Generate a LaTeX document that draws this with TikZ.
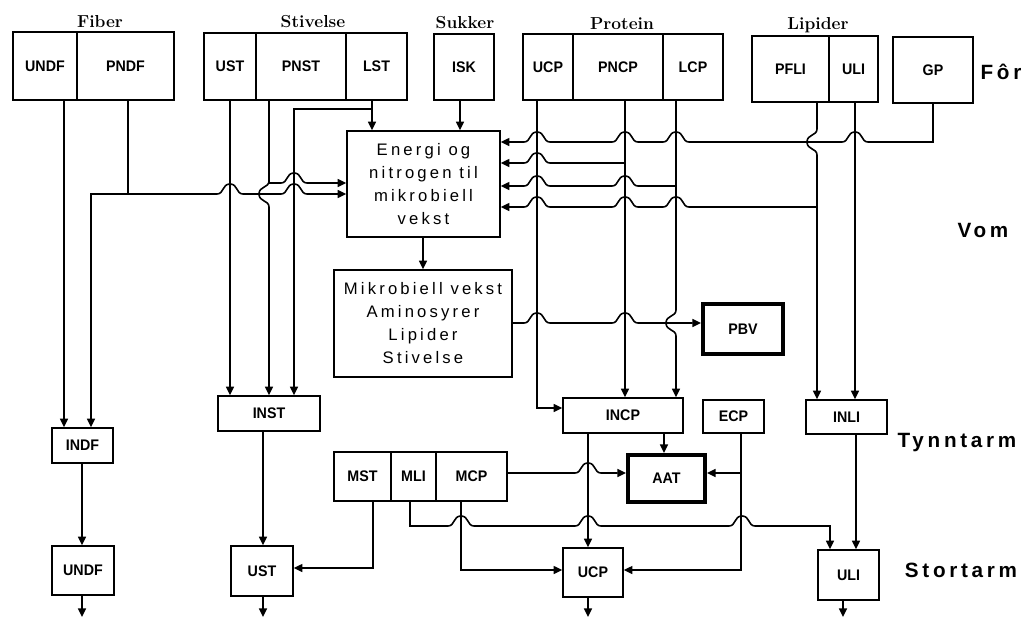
\documentclass[tikz,border=0pt]{standalone}
\usepackage{fontspec}
\newfontfamily\lblfont[FakeStretch=0.93]{Liberation Sans}
\newfontfamily\widefont[LetterSpace=19]{Liberation Sans}
\newfontfamily\regfont[LetterSpace=18]{Liberation Sans}
\usetikzlibrary{arrows.meta}
% hop of a horizontal line over a vertical one, left to right / right to left
\newcommand\hopR[2]{-- ({#1-13},#2) .. controls ({#1-6},#2) and ({#1-8},{#2-10}) .. (#1,{#2-10}) .. controls ({#1+8},{#2-10}) and ({#1+6},#2) .. ({#1+13},#2)}
\newcommand\hopL[2]{-- ({#1+13},#2) .. controls ({#1+6},#2) and ({#1+8},{#2-10}) .. (#1,{#2-10}) .. controls ({#1-8},{#2-10}) and ({#1-6},#2) .. ({#1-13},#2)}
% hop of a vertical line (going down) around a horizontal one, bulging left
\newcommand\hopV[2]{-- (#1,{#2-13}) .. controls (#1,{#2-6}) and ({#1-10},{#2-8}) .. ({#1-10},#2) .. controls ({#1-10},{#2+8}) and (#1,{#2+6}) .. (#1,{#2+13})}
% box from (x1,y1) to (x2,y2) in pixel units
\newcommand\bx[7][]{\node[box,#1,minimum width={(#5-#3)*0.75pt},minimum height={(#6-#4)*0.75pt}] (#2) at ({(#3+#5)/2},{(#4+#6)/2}) {#7};}
\begin{document}
\begin{tikzpicture}[x=0.75pt,y=-0.75pt, line width=1.2pt,
  box/.style={draw, inner sep=0pt, font=\lblfont\bfseries\fontsize{11.5}{13}\selectfont},
  thickbox/.style={line width=3pt},
  bigtext/.style={align=center, font=\widefont\fontsize{12.5}{17.25}\selectfont},
  grp/.style={font=\bfseries\fontsize{13}{15}\selectfont},
  reg/.style={font=\regfont\bfseries\fontsize{15.5}{18}\selectfont},
  >={Triangle[length=6.5pt,width=6pt]}]
\useasboundingbox[fill=white] (0,0) rectangle (1022,619);

% group titles
\node[grp] (tfib) at (100,22) {Fiber};
\node[grp] (tsti) at (313,22) {Stivelse};
\node[grp] (tsuk) at (465,23) {Sukker};
\node[grp] (tpro) at (622,24) {Protein};
\node[grp] (tlip) at (818,25) {Lipider};

% region titles
\node[reg] (rfor) at (1001,72) {Fôr};
\node[reg] (rvom) at (983,230) {Vom};
\node[reg] (rtyn) at (957,443) {Tynntarm};
\node[reg] (rsto) at (961,570) {Stortarm};

% feed boxes
\bx{undf}{13}{32}{77}{100}{UNDF}
\bx{pndf}{77}{32}{174}{100}{PNDF}
\bx{ust}{204}{33}{256}{100}{UST}
\bx{pnst}{256}{33}{346}{100}{PNST}
\bx{lst}{346}{33}{407}{100}{LST}
\bx{isk}{434}{34}{494}{100}{ISK}
\bx{ucp}{523}{34}{573}{100}{UCP}
\bx{pncp}{573}{34}{663}{100}{PNCP}
\bx{lcp}{663}{34}{723}{100}{LCP}
\bx{pfli}{752}{36}{829}{102}{PFLI}
\bx{uli}{829}{36}{878}{102}{ULI}
\bx{gp}{893}{37}{973}{103}{GP}

% rumen
\bx[bigtext]{energy}{347}{131}{500}{237}{Energi og\\nitrogen til\\mikrobiell\\vekst}
\bx[bigtext]{mik}{334}{270}{512}{377}{Mikrobiell vekst\\Aminosyrer\\Lipider\\Stivelse}
\bx[thickbox]{pbv}{703}{304}{783}{354}{PBV}

% small intestine
\bx{inst}{218}{396}{320}{431}{INST}
\bx{incp}{563}{398}{683}{433}{INCP}
\bx{ecp}{703}{400}{764}{433}{ECP}
\bx{inli}{806}{400}{887}{434}{INLI}
\bx{indf}{52}{428}{113}{463}{INDF}
\bx{mst}{334}{452}{391}{501}{MST}
\bx{mli}{391}{452}{436}{501}{MLI}
\bx{mcp}{436}{452}{507}{501}{MCP}
\bx[thickbox]{aat}{628}{455}{705}{502}{AAT}

% large intestine
\bx{undf2}{52}{546}{114}{595}{UNDF}
\bx{ust2}{231}{546}{293}{596}{UST}
\bx{ucp2}{563}{548}{623}{597}{UCP}
\bx{uli2}{818}{550}{879}{600}{ULI}

\coordinate (o1) at (82,617);
\coordinate (o2) at (263,617);
\coordinate (o3) at (588,617);
\coordinate (o4) at (843,617);

% connectors: feed -> rumen / small intestine
\draw[->] (64,0 |- undf.south) -- (64,0 |- indf.north);
\draw[->] (128,0 |- pndf.south) -- (128,194) -- (91,194) -- (91,0 |- indf.north);
\draw[->] (128,194) \hopR{230}{194} \hopR{294}{194} -- (energy.west |- 0,194);
\draw[->] (230,0 |- ust.south) -- (230,0 |- inst.north);
\draw[->] (269,0 |- pnst.south) -- (269,183) \hopV{269}{194} -- (269,0 |- inst.north);
\draw[->] (269,183) \hopR{294}{183} -- (energy.west |- 0,183);
\draw[->] (372,0 |- lst.south) -- (372,0 |- energy.north);
\draw[->] (372,109) -- (294,109) -- (294,0 |- inst.north);
\draw[->] (460,0 |- isk.south) -- (460,0 |- energy.north);
\draw[->] (423,0 |- energy.south) -- (423,0 |- mik.north);

\draw[->] (537,0 |- ucp.south) -- (537,408) -- (incp.west |- 0,408);
\draw[->] (625,0 |- pncp.south) -- (625,0 |- incp.north);
\draw[->] (676,0 |- lcp.south) \hopV{676}{323} -- (676,0 |- incp.north);
\draw[->] (817,0 |- pfli.south) \hopV{817}{142} -- (817,0 |- inli.north);
\draw[->] (855,0 |- uli.south) -- (855,0 |- inli.north);
\draw[->] (933,0 |- gp.south) -- (933,142) \hopL{855}{142} \hopL{676}{142} \hopL{625}{142} \hopL{537}{142} -- (energy.east |- 0,142);
\draw[->] (625,163) \hopL{537}{163} -- (energy.east |- 0,163);
\draw[->] (676,186) \hopL{625}{186} \hopL{537}{186} -- (energy.east |- 0,186);
\draw[->] (817,207) \hopL{676}{207} \hopL{625}{207} \hopL{537}{207} -- (energy.east |- 0,207);
\draw[->] (mik.east |- 0,323) \hopR{537}{323} \hopR{625}{323} -- (pbv.west |- 0,323);

% lower part
\draw[->] (82,0 |- indf.south) -- (82,0 |- undf2.north);
\draw[->] (263,0 |- inst.south) -- (263,0 |- ust2.north);
\draw[->] (373,0 |- mst.south) -- (373,568) -- (ust2.east |- 0,568);
\draw[->] (410,0 |- mli.south) -- (410,526) \hopR{461}{526} \hopR{588}{526} \hopR{742}{526} -- (830,526) -- (830,0 |- uli2.north);
\draw[->] (461,0 |- mcp.south) -- (461,570) -- (ucp2.west |- 0,570);
\draw[->] (mcp.east |- 0,473) \hopR{588}{473} -- (aat.west |- 0,473);
\draw[->] (588,0 |- incp.south) -- (588,0 |- ucp2.north);
\draw[->] (664,0 |- incp.south) -- (664,0 |- aat.north);
\draw[->] (741,0 |- ecp.south) -- (741,570) -- (ucp2.east |- 0,570);
\draw[->] (741,473) -- (aat.east |- 0,473);
\draw[->] (856,0 |- inli.south) -- (856,0 |- uli2.north);

% outflows
\draw[->] (82,0 |- undf2.south) -- (o1);
\draw[->] (263,0 |- ust2.south) -- (o2);
\draw[->] (588,0 |- ucp2.south) -- (o3);
\draw[->] (843,0 |- uli2.south) -- (o4);
\end{tikzpicture}
\end{document}
